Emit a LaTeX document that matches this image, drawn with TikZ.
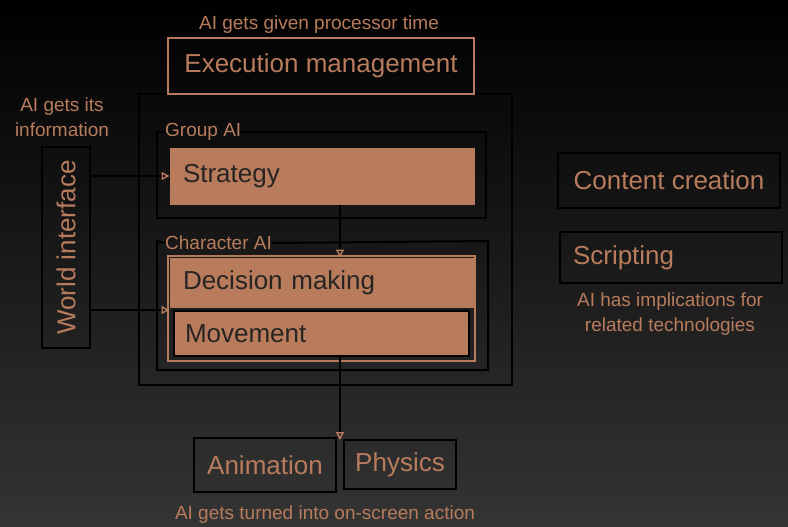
\documentclass[tikz,border=0pt]{standalone}
\usepackage{fontspec}
\setmainfont{Liberation Sans}
\usetikzlibrary{arrows.meta}
\definecolor{copper}{RGB}{184,124,93}
\definecolor{bgbot}{RGB}{52,52,52}
\definecolor{inktext}{RGB}{40,36,34}
\tikzset{
  bigtxt/.style={font=\fontsize{26}{29}\selectfont},
  smalltxt/.style={font=\fontsize{19}{25}\selectfont, text=copper, align=center, inner sep=0pt},
  filledbox/.style={draw=copper, line width=1pt, fill=copper, text=inktext, bigtxt,
    align=left, inner xsep=13pt, inner ysep=0pt},
  plainbox/.style={draw=black, line width=2pt, text=copper, bigtxt, inner sep=0pt},
  frame/.style={draw=black, line width=2pt},
  link/.style={draw=black, line width=1.5pt,
    -{Triangle[open, length=8pt, width=8pt, color=copper, line width=1.4pt]}},
  framelabel/.style={font=\fontsize{19}{22}\selectfont, text=copper, inner sep=0pt, anchor=west}
}
\begin{document}
\begin{tikzpicture}[x=1pt, y=-1pt]
  % backdrop
  \shade[top color=black, bottom color=bgbot] (0,0) rectangle (788,527);
  \useasboundingbox (0,0) rectangle (788,527);

  % outer frame of the AI core
  \coordinate (oTL) at (139,94);
  \coordinate (oBR) at (512,385);
  \draw[frame] (oTL) rectangle (oBR);

  % execution management
  \node[plainbox, draw=copper, line width=1.5pt, minimum width=306pt, minimum height=56pt]
    (exec) at (321,66) {Execution management};
  \node[smalltxt] (timelbl) at (319,25) {AI gets given processor time};

  % group AI frame
  \node[framelabel] (grouplbl) at (165,132) {Group AI};
  \draw[frame] (grouplbl.east) -- (486,132) -- (486,218) -- (157,218) -- (157,132) -- (grouplbl.west);
  \node[filledbox, text width=278pt, minimum height=56pt] (strategy) at (322,176) {Strategy};

  % character AI frame
  \node[framelabel] (charlbl) at (165,243) {Character AI};
  \draw[frame] (charlbl.east) -- (488,241) -- (488,370) -- (157,370) -- (157,241) -- (charlbl.west);
  \draw[copper, line width=1.5pt] (168,256) rectangle (475,361);
  \node[filledbox, draw=none, text width=278pt, minimum height=50pt] (decision) at (322,283) {Decision making};
  \node[filledbox, draw=black, line width=2pt, text width=273pt, minimum height=45pt, inner xsep=11pt]
    (movement) at (321.5,333.5) {Movement};

  % world interface
  \node[plainbox, rotate=90, minimum width=201pt, minimum height=48pt] (world) at (66,247.5) {World interface};
  \node[smalltxt] (infolbl) at (62,117) {AI gets its\\information};

  % animation and physics
  \node[plainbox, line width=2.5pt, minimum width=142pt, minimum height=54pt] (anim) at (265,465) {Animation};
  \node[plainbox, minimum width=112pt, minimum height=49pt] (phys) at (400,464.5) {Physics};
  \node[smalltxt] (actionlbl) at (325,515) {AI gets turned into on-screen action};

  % related technologies
  \node[plainbox, minimum width=222pt, minimum height=55pt] (content) at (669,180.5) {Content creation};
  \node[plainbox, minimum width=222pt, minimum height=51pt, text width=196pt, align=left, inner xsep=13pt]
    (script) at (671,257.5) {Scripting};
  \node[smalltxt] (techlbl) at (670,314) {AI has implications for\\related technologies};

  % connectors
  \coordinate (tapx) at (340,0);
  \coordinate (dmgap) at (0,310);
  \coordinate (outtop) at (340,440);
  \path[link] (world.south |- strategy.west) -- (strategy.west);
  \path[link] (world.south |- dmgap) -- (decision.west |- dmgap);
  \path[link] (strategy.south -| tapx) -- (decision.north -| tapx);
  \path[link] (movement.south -| tapx) -- (outtop);
\end{tikzpicture}
\end{document}
